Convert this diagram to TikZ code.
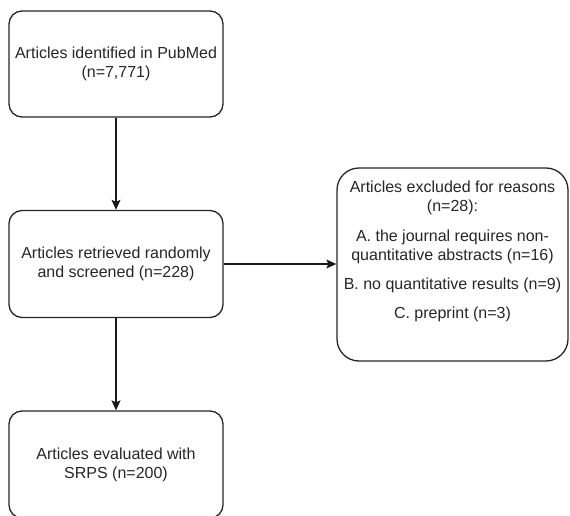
\documentclass[tikz,border=0pt]{standalone}
\usepackage{fontspec}
\setmainfont{Liberation Sans}
\usetikzlibrary{arrows.meta}
\begin{document}
\begin{tikzpicture}[x=1pt,y=-1pt,
  flowbox/.style={draw=black!85, line width=1.3pt, rounded corners=13pt, inner sep=0pt},
  txt/.style={align=center, text=black!85, font=\fontsize{16}{19}\selectfont},
  arr/.style={draw=black!90, line width=1.3pt, -{Stealth[length=10pt,width=9pt,inset=2pt]}}]
\useasboundingbox (0,0) rectangle (570,516);
\node[flowbox, minimum width=214pt, minimum height=106pt, txt] (b1) at (116,64)
  {Articles identified in PubMed\\(n=7,771)};
\node[flowbox, minimum width=214pt, minimum height=107pt, txt] (b2) at (116,264)
  {Articles retrieved randomly\\and screened (n=228)};
\node[flowbox, minimum width=214pt, minimum height=107pt, txt] (b3) at (116,464.5)
  {Articles evaluated with\\SRPS (n=200)};
\node[flowbox, rounded corners=22pt, minimum width=231pt, minimum height=193pt] (r) at (452.5,264.5) {};
\node[txt] (rt) at (452.5,251)
  {Articles excluded for reasons\\(n=28):\\[11pt]
   A. the journal requires non-\\quantitative abstracts (n=16)\\[10pt]
   B. no quantitative results (n=9)\\[10pt]
   C. preprint (n=3)};
\draw[arr] (b1) -- (b2);
\draw[arr] (b2) -- (b3);
\draw[arr] (b2.east) -- (b2.east -| r.west);
\end{tikzpicture}
\end{document}
